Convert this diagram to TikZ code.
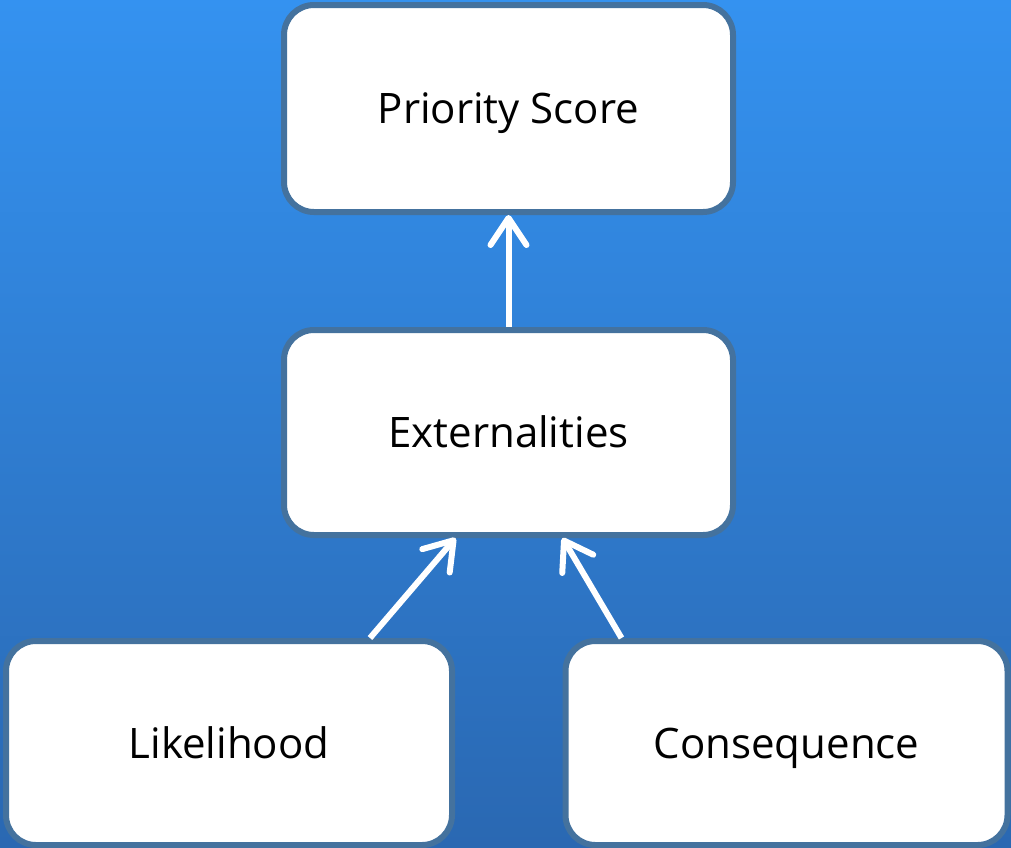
\documentclass[tikz,border=0pt]{standalone}
\usepackage{fontspec}
\setmainfont{Open Sans}
\usetikzlibrary{arrows.meta,positioning,calc}

\definecolor{bgtop}{HTML}{3492F0}
\definecolor{bgbottom}{HTML}{2A68B2}
\definecolor{boxline}{HTML}{44729E}

\begin{document}
\begin{tikzpicture}[x=1pt, y=-1pt]%
        \tikzstyle{box}=[draw=boxline, fill=white, line width=6pt, rounded corners=30pt, font=\fontsize{42}{50}\selectfont, text=black, text height=30pt, text depth=0pt];%
        \tikzstyle{link}=[draw=white, line width=6pt, -{Straight Barb[length=27pt, width=36pt, round]}];%

        % background
        \fill[top color=bgtop, bottom color=bgbottom] (0, 0) rectangle (1011, 847);
        \useasboundingbox (0, 0) rectangle (1011, 847);

        \node[box, minimum width=449pt, minimum height=207pt] (prio) at (508.5, 108.5) {Priority Score};
        \node[box, minimum width=449pt, minimum height=205pt] (ext) at (508.5, 432.5) {Externalities};
        \node[box, minimum width=446pt, minimum height=204pt] (lik) at (229, 743) {Likelihood};
        \node[box, minimum width=442pt, minimum height=204pt] (cons) at (786.5, 743) {Consequence};

        \draw[link] (ext.north) -- (prio.south);
        \draw[link] ([xshift=141pt]lik.north) -- ([xshift=-53pt]ext.south);
        \draw[link] ([xshift=-165pt]cons.north) -- ([xshift=54pt]ext.south);
    \end{tikzpicture}
\end{document}
